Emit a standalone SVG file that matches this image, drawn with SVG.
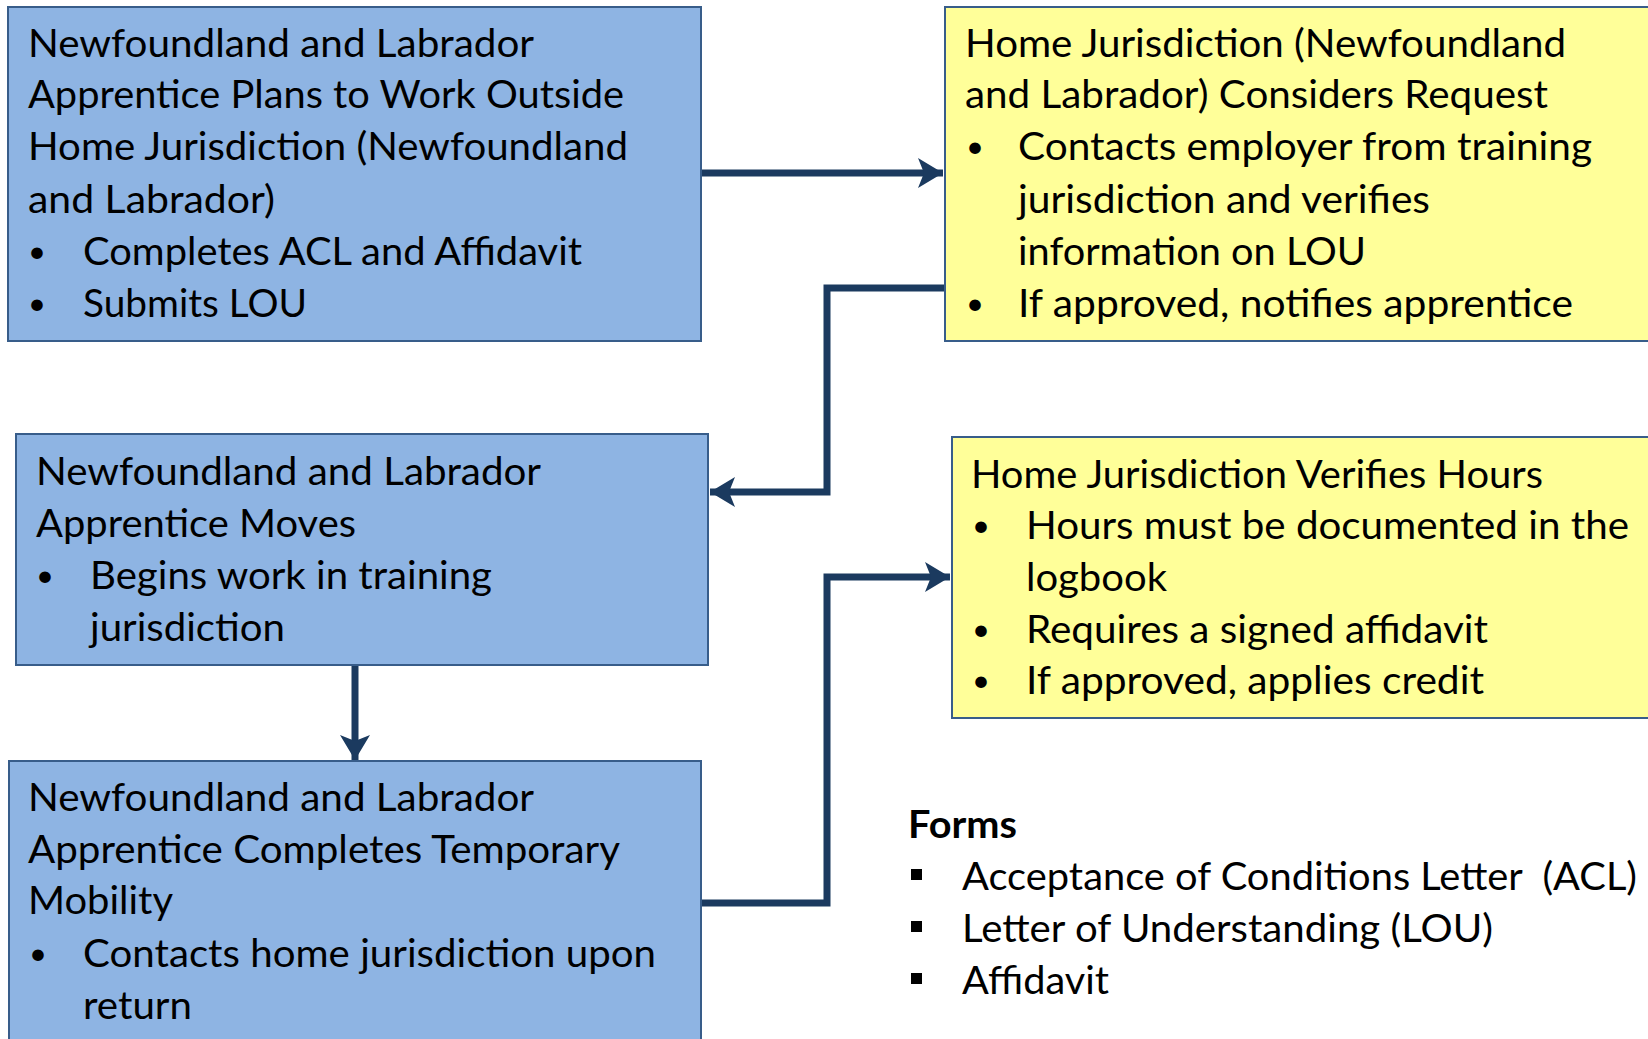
<svg xmlns="http://www.w3.org/2000/svg" width="1648" height="1039" viewBox="0 0 1648 1039">
<defs>
<style>
.blue{fill:#8EB4E3;stroke:#385D8A;stroke-width:2}
.yel{fill:#FFFF99;stroke:#385D8A;stroke-width:2}
.t{font-family:Lato,"Open Sans","Liberation Sans",sans-serif;font-size:39px;fill:#000}
.u{font-family:Lato,"Open Sans","Liberation Sans",sans-serif;font-size:31px;fill:#000}
.b{font-family:Lato,"Open Sans","Liberation Sans",sans-serif;font-size:39px;fill:#000;font-weight:bold}
.c{fill:none;stroke:#1B3A5F;stroke-width:7;stroke-linejoin:miter}
</style>
<marker id="ah" markerUnits="userSpaceOnUse" markerWidth="32" markerHeight="34" viewBox="0 0 32 34" refX="30" refY="17" orient="auto">
<path d="M30,17 L5,2 L11,17 L5,32 Z" fill="#1B3A5F"/>
</marker>
</defs>
<rect width="1648" height="1039" fill="#fff"/>
<g id="connectors">
<path class="c" d="M701,173 L943,173" marker-end="url(#ah)"/>
<path class="c" d="M945,288 L827,288 L827,492 L710,492" marker-end="url(#ah)"/>
<path class="c" d="M355,665 L355,760" marker-end="url(#ah)"/>
<path class="c" d="M701,903 L827,903 L827,577 L950,577" marker-end="url(#ah)"/>
</g>
<g id="box1">
<rect class="blue" x="8" y="7" width="693" height="334"/>
<text class="t" x="28" y="57" textLength="506" lengthAdjust="spacingAndGlyphs">Newfoundland and Labrador</text>
<text class="t" x="28" y="108" textLength="596" lengthAdjust="spacingAndGlyphs">Apprentice Plans to Work Outside</text>
<text class="t" x="28" y="160" textLength="600" lengthAdjust="spacingAndGlyphs">Home Jurisdiction (Newfoundland</text>
<text class="t" x="28" y="213" textLength="247" lengthAdjust="spacingAndGlyphs">and Labrador)</text>
<text class="u" x="28" y="262">•</text>
<text class="t" x="83" y="265" textLength="499" lengthAdjust="spacingAndGlyphs">Completes ACL and Affidavit</text>
<text class="u" x="28" y="314">•</text>
<text class="t" x="83" y="317" textLength="224" lengthAdjust="spacingAndGlyphs">Submits LOU</text>
</g>
<g id="box2">
<rect class="yel" x="945" y="7" width="710" height="334"/>
<text class="t" x="965" y="57" textLength="601" lengthAdjust="spacingAndGlyphs">Home Jurisdiction (Newfoundland</text>
<text class="t" x="965" y="108" textLength="583" lengthAdjust="spacingAndGlyphs">and Labrador) Considers Request</text>
<text class="u" x="966" y="157">•</text>
<text class="t" x="1018" y="160" textLength="574" lengthAdjust="spacingAndGlyphs">Contacts employer from training</text>
<text class="t" x="1018" y="213" textLength="412" lengthAdjust="spacingAndGlyphs">jurisdiction and verifies</text>
<text class="t" x="1018" y="265" textLength="348" lengthAdjust="spacingAndGlyphs">information on LOU</text>
<text class="u" x="966" y="314">•</text>
<text class="t" x="1018" y="317" textLength="555" lengthAdjust="spacingAndGlyphs">If approved, notifies apprentice</text>
</g>
<g id="box3">
<rect class="blue" x="16" y="434" width="692" height="231"/>
<text class="t" x="36" y="485" textLength="505" lengthAdjust="spacingAndGlyphs">Newfoundland and Labrador</text>
<text class="t" x="36" y="537" textLength="320" lengthAdjust="spacingAndGlyphs">Apprentice Moves</text>
<text class="u" x="36" y="586">•</text>
<text class="t" x="90" y="589" textLength="402" lengthAdjust="spacingAndGlyphs">Begins work in training</text>
<text class="t" x="90" y="641" textLength="195" lengthAdjust="spacingAndGlyphs">jurisdiction</text>
</g>
<g id="box4">
<rect class="yel" x="952" y="437" width="710" height="281"/>
<text class="t" x="971" y="488" textLength="572" lengthAdjust="spacingAndGlyphs">Home Jurisdiction Verifies Hours</text>
<text class="u" x="972" y="536">•</text>
<text class="t" x="1026" y="539" textLength="603" lengthAdjust="spacingAndGlyphs">Hours must be documented in the</text>
<text class="t" x="1026" y="591" textLength="141" lengthAdjust="spacingAndGlyphs">logbook</text>
<text class="u" x="972" y="640">•</text>
<text class="t" x="1026" y="643" textLength="462" lengthAdjust="spacingAndGlyphs">Requires a signed affidavit</text>
<text class="u" x="972" y="691">•</text>
<text class="t" x="1026" y="694" textLength="458" lengthAdjust="spacingAndGlyphs">If approved, applies credit</text>
</g>
<g id="box5">
<rect class="blue" x="9" y="761" width="692" height="300"/>
<text class="t" x="28" y="811" textLength="506" lengthAdjust="spacingAndGlyphs">Newfoundland and Labrador</text>
<text class="t" x="28" y="863" textLength="592" lengthAdjust="spacingAndGlyphs">Apprentice Completes Temporary</text>
<text class="t" x="28" y="914" textLength="145" lengthAdjust="spacingAndGlyphs">Mobility</text>
<text class="u" x="29" y="964">•</text>
<text class="t" x="83" y="967" textLength="573" lengthAdjust="spacingAndGlyphs">Contacts home jurisdiction upon</text>
<text class="t" x="83" y="1019" textLength="109" lengthAdjust="spacingAndGlyphs">return</text>
</g>
<g id="forms">
<text class="b" x="908" y="838" textLength="109" lengthAdjust="spacingAndGlyphs">Forms</text>
<rect x="911" y="869" width="11" height="11" fill="#000"/>
<text class="t" x="962" y="890" textLength="675" lengthAdjust="spacingAndGlyphs" xml:space="preserve">Acceptance of Conditions Letter  (ACL)</text>
<rect x="911" y="921" width="11" height="11" fill="#000"/>
<text class="t" x="962" y="942" textLength="531" lengthAdjust="spacingAndGlyphs">Letter of Understanding (LOU)</text>
<rect x="911" y="973" width="11" height="11" fill="#000"/>
<text class="t" x="962" y="994" textLength="147" lengthAdjust="spacingAndGlyphs">Affidavit</text>
</g>
</svg>
